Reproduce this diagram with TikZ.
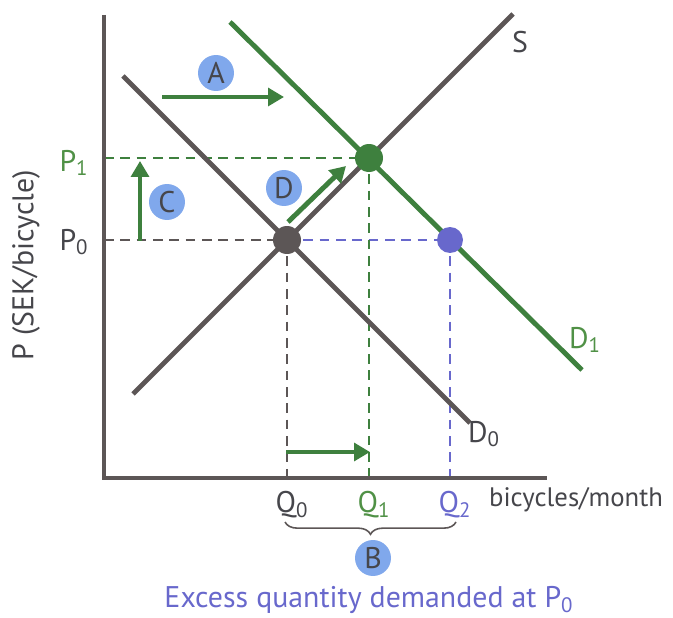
\documentclass[tikz,border=0pt]{standalone}
\usepackage{fontspec}
\setmainfont{PT Sans}
\usepackage{tikz}
\usetikzlibrary{arrows.meta, decorations.pathreplacing}
\definecolor{mygrey}{RGB}{92,86,86}
\definecolor{mygreen}{RGB}{62,128,62}
\definecolor{lblgreen}{RGB}{80,145,70}
\definecolor{myblue}{RGB}{104,104,204}
\definecolor{badgeblue}{RGB}{128,168,236}
\definecolor{txtgrey}{RGB}{70,70,75}
\tikzset{
  axisline/.style={line width=2.8pt, color=mygrey},
  curve/.style={line width=2.8pt, color=mygrey},
  greencurve/.style={line width=2.8pt, color=mygreen},
  guide/.style={line width=1.2pt, dash pattern=on 5.5pt off 3.8pt},
  dot/.style={circle, minimum size=0.56cm, inner sep=0pt},
  badge/.style={circle, fill=badgeblue, minimum size=0.72cm, inner sep=0pt,
    font=\fontsize{17}{20}\selectfont, text=txtgrey},
  shiftarrow/.style={-{Triangle[length=9pt,width=10pt]}, line width=2.8pt, color=mygreen},
  lbl/.style={font=\fontsize{17}{20}\selectfont, inner sep=1pt, text=txtgrey}
}
\begin{document}
\begin{tikzpicture}[x=0.02cm, y=-0.02cm]
  \useasboundingbox (0,0) rectangle (673,618);
  % axes and points
  \coordinate (o) at (104,478);
  \coordinate (ytop) at (104,15);
  \coordinate (xend) at (547,478);
  \coordinate (E0) at (287,240);
  \coordinate (E1) at (369,158);
  \coordinate (E2) at (450,240);
  \coordinate (p0) at (104,240);
  \coordinate (p1) at (104,158);
  \coordinate (q0) at (287,478);
  \coordinate (q1) at (369,478);
  \coordinate (q2) at (450,478);

  % guide lines
  \draw[guide, color=mygreen] (p1) -- (E1);
  \draw[guide, color=mygrey] (p0) -- (E0);
  \draw[guide, color=myblue] (E0) -- (E2);
  \draw[guide, color=mygrey] (E0) -- (q0);
  \draw[guide, color=mygreen] (E1) -- (q1);
  \draw[guide, color=myblue] (E2) -- (q2);

  \draw[axisline] (ytop) -- (o) -- (xend);

  % curves
  \coordinate (s1) at (133,394);
  \coordinate (s2) at (513,14);
  \coordinate (d0a) at (123,76);
  \coordinate (d0b) at (470,423);
  \coordinate (d1a) at (230,22);
  \coordinate (d1b) at (582,370);
  \draw[curve] (s1) -- (s2);
  \draw[curve] (d0a) -- (d0b);
  \draw[greencurve] (d1a) -- (d1b);

  \node[dot, fill=mygrey] (e0) at (E0) {};
  \node[dot, fill=mygreen] (e1) at (E1) {};
  \node[dot, fill=myblue, minimum size=0.52cm] (e2) at (E2) {};

  % shifts
  \coordinate (a1) at (162,97);
  \coordinate (a2) at (284,97);
  \coordinate (c1) at (140,241);
  \coordinate (c2) at (140,161);
  \coordinate (dd1) at (288,222);
  \coordinate (dd2) at (346,166);
  \coordinate (b1) at (286,452);
  \coordinate (b2) at (370,452);
  \draw[shiftarrow] (a1) -- (a2);
  \draw[shiftarrow] (c1) -- (c2);
  \draw[shiftarrow] (dd1) -- (dd2);
  \draw[shiftarrow] (b1) -- (b2);

  \node[badge] (ba) at (216,73) {A};
  \node[badge] (bc) at (167,202) {C};
  \node[badge] (bd) at (284,188) {D};
  \node[badge] (bb) at (373,558) {B};

  % labels
  \node[lbl] (ls) at (520,42) {S};
  \node[lbl, text=lblgreen] (ld1) at (585,340) {D\textsubscript{1}};
  \node[lbl] (ld0) at (484,434) {D\textsubscript{0}};
  \node[lbl, text=lblgreen] (lp1) at (74,163) {P\textsubscript{1}};
  \node[lbl] (lp0) at (74,242) {P\textsubscript{0}};
  \node[lbl] (lq0) at (292,505) {Q\textsubscript{0}};
  \node[lbl, text=lblgreen] (lq1) at (374,505) {Q\textsubscript{1}};
  \node[lbl, text=myblue] (lq2) at (455,505) {Q\textsubscript{2}};
  \node[lbl, anchor=west, font=\fontsize{15.2}{18}\selectfont] (lx) at (487,500) {bicycles/month};
  \node[lbl, rotate=90] (ly) at (26,265) {P (SEK/bicycle)};

  \coordinate (br1) at (285,522);
  \coordinate (br2) at (456,522);
  \draw[color=mygrey, line width=0.9pt, decorate,
    decoration={brace, mirror, amplitude=7pt}] (br1) -- (br2);
  \node[lbl, text=myblue] (note) at (369,600) {Excess quantity demanded at P\textsubscript{0}};
\end{tikzpicture}
\end{document}
